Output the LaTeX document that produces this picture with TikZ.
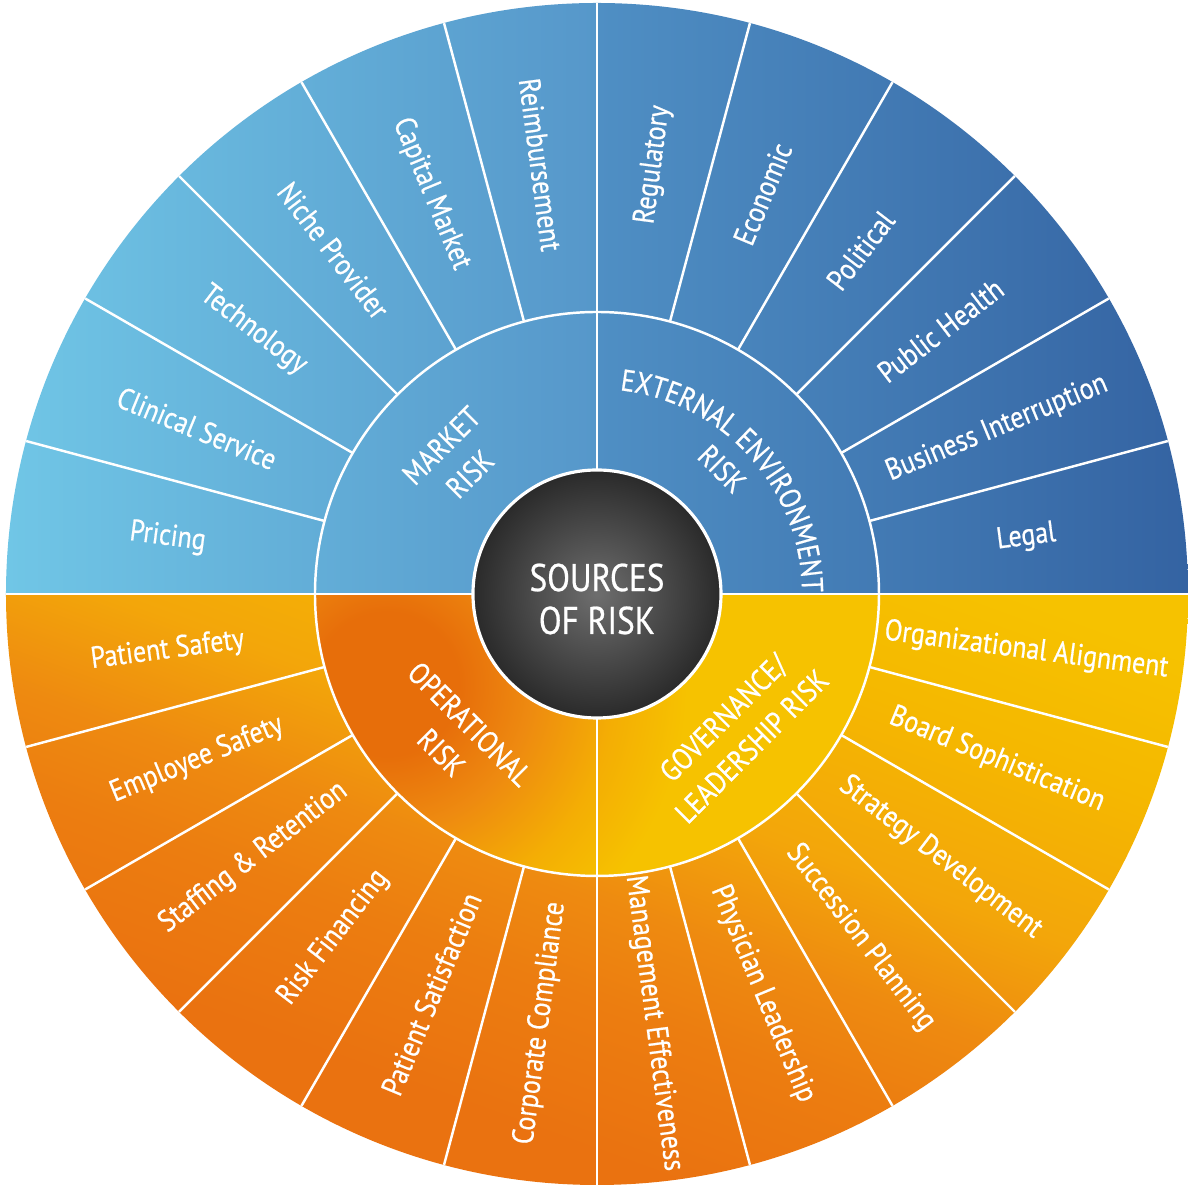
\documentclass[tikz,border=0pt]{standalone}
\usepackage{fontspec}
\setmainfont{PT Sans}[FakeStretch=0.86, FakeBold=0.6]
\usetikzlibrary{decorations.text}

\definecolor{mktlight}{HTML}{70C6E6}
\definecolor{mktdark}{HTML}{5697CA}
\definecolor{extlight}{HTML}{4F8FC4}
\definecolor{extdark}{HTML}{3463A2}
\definecolor{govyellow}{HTML}{F6C200}
\definecolor{govlight}{HTML}{F5B800}
\definecolor{opsamber}{HTML}{F3A60A}
\definecolor{opsmid}{HTML}{EE8A10}
\definecolor{opsorange}{HTML}{EC7D10}
\definecolor{opsdeep}{HTML}{EA7210}
\definecolor{opsdark}{HTML}{E76E0A}
\definecolor{opslight}{HTML}{F4AE04}
\definecolor{coreinner}{HTML}{6E6E6E}
\definecolor{coreouter}{HTML}{2A2A2A}

% lower half: yellow at the upper right, orange towards the lower left
\pgfdeclarehorizontalshading{outerbottom}{100bp}{color(0bp)=(govyellow); color(44bp)=(govyellow); color(50bp)=(govlight); color(57bp)=(opsamber); color(62bp)=(opsmid); color(66bp)=(opsorange); color(72bp)=(opsdeep); color(100bp)=(opsdeep)}
\pgfdeclareradialshading{innerbottom}{\pgfpointorigin}{color(0bp)=(opsdark); color(3bp)=(opsdark); color(6bp)=(opsmid); color(9.5bp)=(opslight); color(12.5bp)=(govyellow); color(50bp)=(govyellow)}

\newcommand{\outerR}{5.91}
\newcommand{\ringR}{2.82}
\newcommand{\coreR}{1.24}
\newcommand{\labelR}{4.33}
\newcommand{\catfont}{\fontsize{8.6}{11.5}\selectfont}

\tikzset{
  divider/.style={draw=white, line width=0.7pt},
  leaf/.style={text=white, inner sep=0pt, font=\fontsize{8.6}{10}\selectfont},
  category/.style={text=white, align=center, inner sep=0pt, font=\catfont},
  core/.style={text=white, align=center, inner sep=0pt, font=\fontsize{11}{12.2}\selectfont}
}

\begin{document}
\begin{tikzpicture}
\useasboundingbox (-5.97,-5.93) rectangle (5.91,5.94);

% upper half, both rings
\begin{scope}
  \clip (0,0) circle (\outerR);
  \shade[left color=mktlight, right color=mktdark] (-\outerR,0) rectangle (0,\outerR);
  \shade[left color=extlight, right color=extdark] (0,0) rectangle (\outerR,\outerR);
\end{scope}

% lower half, outer ring
\begin{scope}
  \clip (\outerR,0) arc[start angle=0, end angle=-180, radius=\outerR] -- cycle;
  \shade[shading=outerbottom, shading angle=250] (-6,-6) rectangle (6,6);
\end{scope}

% lower half, inner ring
\begin{scope}
  \clip (\ringR,0) arc[start angle=0, end angle=-180, radius=\ringR] -- cycle;
  \shade[shading=innerbottom] (-2.1,-0.9) circle (6);
\end{scope}

% white separators
\foreach \a in {0,15,...,345}
  \draw[divider] (\a:\ringR) -- (\a:\outerR);
\foreach \a in {0,90,180,270}
  \draw[divider] (\a:\coreR) -- (\a:\ringR);
\draw[divider] (0,0) circle (\ringR);

% centre disc
\shade[inner color=coreinner, outer color=coreouter] (0,0) circle (\coreR);
\draw[white, line width=0.9pt] (0,0) circle (\coreR);
\node[core] (core) at (0,-0.05) {SOURCES\\OF RISK};

% categories
\node[category, rotate=45] (market) at (136.5:1.95) {MARKET\\RISK};
\path[decorate, decoration={text along path, text={|\catfont|EXTERNAL ENVIRONMENT}, text align=center, text color=white}]
  (84:2.05) arc[start angle=84, end angle=0, radius=2.05];
\node[category, rotate=-45] (external) at (45:1.77) {RISK};
\node[category, rotate=-45] (operational) at (225.6:2.02) {OPERATIONAL\\RISK};
\node[category, rotate=45] (governance) at (-44.5:1.97) {GOVERNANCE/\\LEADERSHIP RISK};

% left half reads towards the centre
\foreach \a/\txt [count=\i] in {172.5/Pricing, 157.5/Clinical Service, 142.5/Technology,
    127.5/Niche Provider, 112.5/Capital Market, 97.5/Reimbursement,
    262.5/Corporate Compliance, 247.5/Patient Satisfaction, 232.5/Risk Financing,
    217.5/Staffing \& Retention, 202.5/Employee Safety, 187.5/Patient Safety}
  \node[leaf, rotate=\a-180] (left-\i) at (\a:\labelR) {\txt};

% right half reads outwards
\foreach \a/\txt [count=\i] in {82.5/Regulatory, 67.5/Economic, 52.5/Political,
    37.5/Public Health, 22.5/Business Interruption, 7.5/Legal,
    -7.5/Organizational Alignment, -22.5/Board Sophistication, -37.5/Strategy Development,
    -52.5/Succession Planning, -67.5/Physician Leadership, -82.5/Management Effectiveness}
  \node[leaf, rotate=\a] (right-\i) at (\a:\labelR) {\txt};

\end{tikzpicture}
\end{document}
